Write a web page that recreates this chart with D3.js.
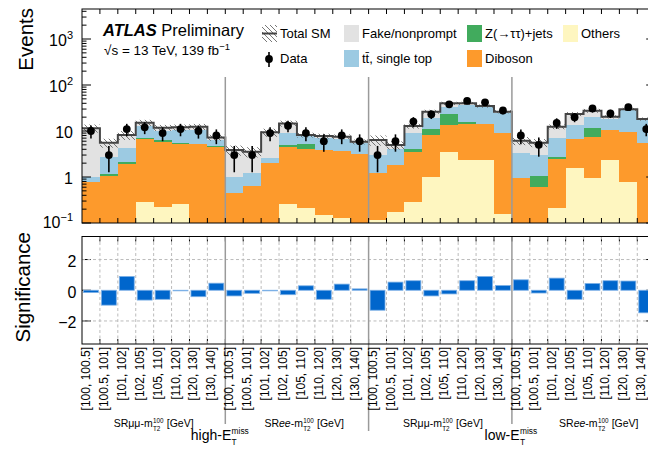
<!DOCTYPE html>
<html><head><meta charset="utf-8">
<script src="https://cdn.jsdelivr.net/npm/d3@7"></script>
<style>body{margin:0;background:#fff}svg{display:block;font-family:"Liberation Sans",Arial,Helvetica,sans-serif}text{white-space:pre}</style>
</head><body><svg id="c" width="648" height="453"></svg>
<script>
// ---------------- data ----------------
const binNames = ["[100, 100.5]","[100.5, 101]","[101, 102]","[102, 105]","[105, 110]","[110, 120]","[120, 130]","[130, 140]"];
const regions = ["SRμμ high","SRee high","SRμμ low","SRee low"];
const others  = [0,0,0,0.28,0.22,0.26,0,0, 0,0,0,0.255,0.21,0.15,0.127,0, 0.116,0.176,0.29,1.0,3.55,2.34,2.34,0.16, 0,0,0.21,1.55,0.94,2.34,0.79,0];
const diboson = [0.79,1.07,1.92,6.32,5.48,5.04,5.2,4.56, 0.46,0.64,1.98,4.3,3.85,3.71,3.57,3.2, 1.08,1.64,3.26,7.2,9.95,11.86,11.86,8.74, 0.97,0.62,2.21,5.05,6.36,8.16,8.9,5.57];
const ztautau = [0,0.11,0.23,0.56,0.67,0.27,0.1,0.05, 0,0,0,0.4,1.14,0.05,0.03,0.03, 0,0,0.51,2.7,9.6,1.7,0.3,0.2, 0,0.43,0.34,0.05,4.5,0.05,0.05,0.05];
const ttbar   = [0.22,1.58,2.05,5.64,3.83,4.83,5.1,1.7, 0.56,0.56,0.57,4.24,2.4,3.0,3.1,2.15, 1.8,2.18,4.84,7.9,10.7,20.7,18.5,15.9, 2.3,1.95,4.44,6.85,8.6,7.65,18.25,11.4];
const fake    = [10.5,2.81,4.0,2.4,1.6,1.6,2.0,0.9, 2.84,2.35,6.8,5.4,0.6,0.9,0.7,0.45, 3.4,0.96,3.9,7.5,6.2,3.4,1.9,1.3, 2.89,2.57,5.2,9.9,7.2,2.2,1.6,1.2];
const relUnc  = [0.2,0.22,0.22,0.15,0.15,0.15,0.15,0.15, 0.25,0.25,0.2,0.15,0.12,0.12,0.12,0.12, 0.25,0.2,0.12,0.1,0.08,0.08,0.08,0.08, 0.2,0.2,0.12,0.1,0.1,0.08,0.08,0.08];
const dataObs = [10,3,11,12,9,11,10,8, 3,3,9,13,9,6,8,6, 3,6,16,23,38,45,42,28, 8,5,15,20,31,24,33,11];
const signif  = [-0.15,-0.97,0.9,-0.64,-0.59,-0.03,-0.42,0.46, -0.37,-0.2,-0.03,-0.29,0.29,-0.59,0.4,0.09, -1.3,0.53,0.62,-0.37,-0.24,0.62,0.9,0.31, 0.68,-0.18,0.79,-0.59,0.44,0.62,0.6,-1.47];
const yTicks = [0.1,1,10,100,1000];
const yTickLabels = [["10","−1"],["1",""],["10",""],["10","2"],["10","3"]];
const sTicks = [-2,0,2];
const sTickLabels = ["−2","0","2"];

const keys = ["others","diboson","ztautau","ttbar","fake"];
const colors = {others:"#fef6c0", diboson:"#fd9a2c", ztautau:"#41ab5d", ttbar:"#9ccae2", fake:"#e2e2e2"};
const nBins = dataObs.length;
const rows = d3.range(nBins).map(i => ({i, others:others[i], diboson:diboson[i], ztautau:ztautau[i], ttbar:ttbar[i], fake:fake[i]}));
const total = rows.map(r => keys.reduce((s,k)=>s+r[k],0));

// ---------------- layout ----------------
const svg = d3.select("#c");
const L = 82, R = 655.2;
const x = d3.scaleLinear().domain([0,nBins]).range([L,R]);
const y = d3.scaleLog().domain([0.1,4490]).range([223,9]);
const ys = d3.scaleLinear().domain([-3.5,3.5]).range([344,236.5]);
const topT = 9, topB = 223, botT = 236.5, botB = 344;
const yc = v => y(Math.max(v,0.1));

const defs = svg.append("defs");
const pat = defs.append("pattern").attr("id","hatch").attr("patternUnits","userSpaceOnUse").attr("width",5).attr("height",5);
pat.append("path").attr("d","M0,0L5,5M-1,4L1,6M4,-1L6,1").attr("stroke","#555").attr("stroke-width",0.8);
defs.append("clipPath").attr("id","clipTop").append("rect").attr("x",L).attr("y",topT).attr("width",R-L).attr("height",topB-topT);

// ---------------- top panel ----------------
const gTop = svg.append("g").attr("clip-path","url(#clipTop)");
const stacked = d3.stack().keys(keys)(rows);
stacked.forEach(layer => {
  gTop.append("g").selectAll("rect").data(layer.filter(d => d[1]-d[0] > 0 && d[1] > 0.1)).join("rect")
    .attr("x", d => x(d.data.i)).attr("width", d => x(d.data.i+1)-x(d.data.i))
    .attr("y", d => yc(d[1])).attr("height", d => yc(d[0]) - yc(d[1]))
    .attr("fill", colors[layer.key]).attr("shape-rendering","crispEdges");
});
// uncertainty hatch
gTop.append("g").selectAll("rect").data(d3.range(nBins)).join("rect")
  .attr("x", i => x(i)).attr("width", i => x(i+1)-x(i))
  .attr("y", i => yc(total[i]*(1+relUnc[i]))).attr("height", i => yc(total[i]*(1-relUnc[i])) - yc(total[i]*(1+relUnc[i])))
  .attr("fill","url(#hatch)");
// total step line
const stepPts = d3.range(nBins).map(i => [x(i), y(total[i])]).concat([[x(nBins), y(total[nBins-1])]]);
gTop.append("path").attr("d", d3.line().curve(d3.curveStepAfter)(stepPts))
  .attr("fill","none").attr("stroke","#444").attr("stroke-width",2);
// region separators (top)
[8,16,24].forEach(b => svg.append("line").attr("x1",x(b)).attr("x2",x(b)).attr("y1",77).attr("y2",topB)
  .attr("stroke","#9a9a9a").attr("stroke-width",1.5));
// data
const gData = svg.append("g");
d3.range(nBins).forEach(i => {
  const cx = (x(i)+x(i+1))/2, d = dataObs[i], e = Math.sqrt(d);
  gData.append("line").attr("x1",cx).attr("x2",cx).attr("y1",yc(d+e)).attr("y2",yc(d-e)).attr("stroke","#000").attr("stroke-width",1.6);
  gData.append("circle").attr("cx",cx).attr("cy",y(d)).attr("r",3.9).attr("fill","#000");
});
// frame & ticks
svg.append("rect").attr("x",L).attr("y",topT).attr("width",R-L).attr("height",topB-topT).attr("fill","none").attr("stroke","#000").attr("stroke-width",1);
const gTk = svg.append("g").attr("stroke","#000").attr("stroke-width",1);
for (let n=-1; n<=3; n++) for (let k=1; k<=9; k++) {
  const v = k*Math.pow(10,n); if (v>4490) continue;
  const len = k===1 ? 9 : 4.5, yy = y(v);
  gTk.append("line").attr("x1",L).attr("x2",L+len).attr("y1",yy).attr("y2",yy);
  gTk.append("line").attr("x1",R).attr("x2",R-len).attr("y1",yy).attr("y2",yy);
}
for (let i=1;i<nBins;i++){
  gTk.append("line").attr("x1",x(i)).attr("x2",x(i)).attr("y1",topT).attr("y2",topT+5);
  gTk.append("line").attr("x1",x(i)).attr("x2",x(i)).attr("y1",topB).attr("y2",topB-5);
}
yTicks.forEach((v,j) => {
  const t = svg.append("text").attr("x",73).attr("y",y(v)+ (j===0?4.5:7)).attr("text-anchor","end").attr("font-size",16);
  t.append("tspan").text(yTickLabels[j][0]);
  if (yTickLabels[j][1]) t.append("tspan").attr("font-size",11).attr("dy",-7).text(yTickLabels[j][1]);
});
svg.append("text").attr("transform","translate(32.5,8) rotate(-90)").attr("text-anchor","end").attr("font-size",20.5).text("Events");

// ---------------- lower panel ----------------
const gB = svg.append("g");
for (let i=1;i<nBins;i++){ if (i%8===0) continue;
  gB.append("line").attr("x1",x(i)).attr("x2",x(i)).attr("y1",botT).attr("y2",botB).attr("stroke","#bbb").attr("stroke-dasharray","3,2.5");
}
[-2,2].forEach(v => gB.append("line").attr("x1",L).attr("x2",R).attr("y1",ys(v)).attr("y2",ys(v)).attr("stroke","#bbb").attr("stroke-dasharray","3,2.5"));
gB.selectAll("rect.b").data(d3.range(nBins)).join("rect")
  .attr("x", i => x(i)+1.5).attr("width", i => x(i+1)-x(i)-3)
  .attr("y", i => Math.min(ys(0), ys(signif[i]))).attr("height", i => Math.max(0.6, Math.abs(ys(signif[i])-ys(0))))
  .attr("fill","#0066cc").attr("stroke","#7cb0e6").attr("stroke-width",0.8);
[8,16,24].forEach(b => svg.append("line").attr("x1",x(b)).attr("x2",x(b)).attr("y1",botT).attr("y2", b===16?431:424)
  .attr("stroke","#9a9a9a").attr("stroke-width",1.5));
svg.append("rect").attr("x",L).attr("y",botT).attr("width",R-L).attr("height",botB-botT).attr("fill","none").attr("stroke","#000");
sTicks.forEach((v,j) => {
  gTk.append("line").attr("x1",L).attr("x2",L+9).attr("y1",ys(v)).attr("y2",ys(v));
  gTk.append("line").attr("x1",R).attr("x2",R-9).attr("y1",ys(v)).attr("y2",ys(v));
  svg.append("text").attr("x",76.5).attr("y",ys(v)+7.5).attr("text-anchor","end").attr("font-size",16).text(sTickLabels[j]);
});
for (let i=1;i<nBins;i++){
  gTk.append("line").attr("x1",x(i)).attr("x2",x(i)).attr("y1",botT).attr("y2",botT+5);
  gTk.append("line").attr("x1",x(i)).attr("x2",x(i)).attr("y1",botB).attr("y2",botB-5);
}
svg.append("text").attr("transform","translate(30,232) rotate(-90)").attr("text-anchor","end").attr("font-size",20.5).text("Significance");

// bin labels
d3.range(nBins).forEach(i => {
  svg.append("text").attr("transform",`translate(${x(i)+8},347) rotate(-90)`).attr("text-anchor","end")
    .attr("font-size",12).text(binNames[i%8]);
});

// rich labels
function rich(cx, by, segs, sub, sup, tail, fs){
  const g = svg.append("g");
  const t1 = g.append("text").attr("x",0).attr("y",0).attr("font-size",fs);
  segs.forEach(s => t1.append("tspan").attr("font-style", s[1]?"italic":null).text(s[0]));
  let cur = t1.node().getComputedTextLength();
  const ts = g.append("text").attr("x",cur+0.3).attr("y",fs*0.38).attr("font-size",fs*0.6).text(sub);
  const tp = g.append("text").attr("x",cur+0.3).attr("y",-fs*0.42).attr("font-size",fs*0.6).text(sup);
  cur += Math.max(ts.node().getComputedTextLength(), tp.node().getComputedTextLength()) + 0.6;
  if (tail){ const t2 = g.append("text").attr("x",cur + fs*0.28).attr("y",0).attr("font-size",fs).text(tail); cur += fs*0.28 + t2.node().getComputedTextLength(); }
  g.attr("transform",`translate(${cx-cur/2},${by})`);
}
const regLabelPos = [4, 12.4, 20.15, 28.85];
const regSegs = [[["SRμμ-m",0]], [["SR",0],["ee",1],["-m",0]], [["SRμμ-m",0]], [["SR",0],["ee",1],["-m",0]]];
regLabelPos.forEach((b,j) => rich(x(b), 427, regSegs[j], "T2", "100", "[GeV]", 10.5));
rich(x(7.7), 440, [["high-E",0]], "T", "miss", null, 14);
rich(x(23.95), 440, [["low-E",0]], "T", "miss", null, 14);

// ---------------- legend / labels ----------------
const at = svg.append("text").attr("x",103).attr("y",36).attr("font-size",16.5);
at.append("tspan").attr("font-weight","bold").attr("font-style","italic").text("ATLAS");
at.append("tspan").text(" Preliminary");
const lum = svg.append("text").attr("x",104).attr("y",55).attr("font-size",13.5);
lum.append("tspan").text("√s = 13 TeV, 139 fb");
lum.append("tspan").attr("font-size",9.5).attr("dy",-5).text("−1");

const legendItems = [
  {label:"Total SM", type:"hatch", x:262, y:25},
  {label:"Data", type:"data", x:262, y:50},
  {label:"Fake/nonprompt", type:"fake", x:344, y:25},
  {label:"tt\u0304, single top", type:"ttbar", x:344, y:50},
  {label:"Z(→ττ)+jets", type:"ztautau", x:467, y:25},
  {label:"Diboson", type:"diboson", x:467, y:50},
  {label:"Others", type:"others", x:563, y:25}
];
legendItems.forEach(it => {
  if (it.type==="hatch"){
    svg.append("rect").attr("x",it.x).attr("y",it.y).attr("width",15).attr("height",17).attr("fill","url(#hatch)");
    svg.append("line").attr("x1",it.x).attr("x2",it.x+15).attr("y1",it.y+8.5).attr("y2",it.y+8.5).attr("stroke","#444").attr("stroke-width",2);
  } else if (it.type==="data"){
    svg.append("line").attr("x1",it.x+7).attr("x2",it.x+7).attr("y1",it.y+2).attr("y2",it.y+17).attr("stroke","#000").attr("stroke-width",1.6);
    svg.append("circle").attr("cx",it.x+7).attr("cy",it.y+9).attr("r",3.9).attr("fill","#000");
  } else {
    svg.append("rect").attr("x",it.x).attr("y",it.y).attr("width",15).attr("height",17).attr("fill",colors[it.type]);
  }
  svg.append("text").attr("x",it.x+18).attr("y",it.y+13).attr("font-size",13).text(it.label);
});
</script></body></html>
